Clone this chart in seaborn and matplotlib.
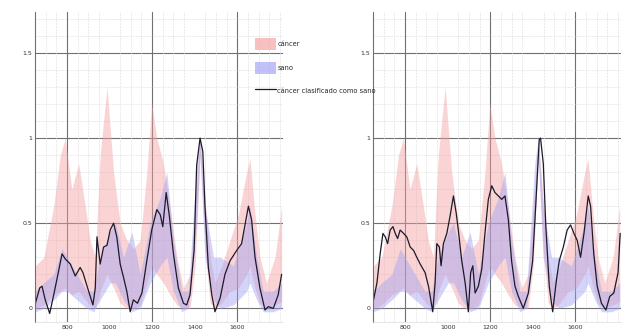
import matplotlib
matplotlib.use("Agg")
import matplotlib.pyplot as plt
import numpy as np
import pandas as pd
import seaborn as sns
from matplotlib.ticker import MultipleLocator
from matplotlib.patches import Patch
from matplotlib.lines import Line2D

# band of "cáncer" spectra (upper / lower envelope)
cancer_x = [652, 691, 738, 769, 792, 823, 855, 886, 909, 933,
            956, 988, 1019, 1050, 1081, 1112, 1144, 1175, 1198, 1222,
            1253, 1284, 1316, 1347, 1378, 1402, 1425, 1448, 1472, 1495,
            1527, 1566, 1605, 1644, 1659, 1683, 1706, 1737, 1777, 1808]
cancer_hi = [0.25, 0.3, 0.6, 0.9, 1.0, 0.7, 0.85, 0.6, 0.4, 0.3,
             0.9, 1.3, 0.8, 0.5, 0.4, 0.35, 0.4, 0.8, 1.2, 1.0,
             0.85, 0.6, 0.3, 0.12, 0.2, 0.6, 1.0, 0.65, 0.3, 0.15,
             0.25, 0.4, 0.55, 0.8, 0.88, 0.55, 0.3, 0.15, 0.3, 0.6]
cancer_lo = [0.0, 0.02, 0.08, 0.1, 0.12, 0.08, 0.1, 0.05, 0.02, 0.0,
             0.1, 0.2, 0.12, 0.03, 0.0, 0.0, 0.02, 0.15, 0.25, 0.2,
             0.15, 0.08, 0.02, 0.0, 0.0, 0.25, 0.9, 0.35, 0.03, 0.0,
             0.03, 0.1, 0.12, 0.2, 0.25, 0.12, 0.03, 0.0, 0.02, 0.04]

# band of "sano" spectra
sano_x = [652, 691, 738, 777, 800, 847, 894, 925, 956, 1003,
          1027, 1066, 1105, 1144, 1191, 1238, 1269, 1300, 1339, 1370,
          1409, 1425, 1448, 1488, 1519, 1581, 1644, 1659, 1691, 1722,
          1769, 1808]
sano_hi = [0.1, 0.15, 0.2, 0.35, 0.3, 0.2, 0.1, 0.1, 0.3, 0.45,
           0.5, 0.3, 0.45, 0.2, 0.5, 0.65, 0.8, 0.4, 0.1, 0.1,
           0.85, 1.0, 0.6, 0.3, 0.3, 0.25, 0.5, 0.6, 0.3, 0.1,
           0.1, 0.15]
sano_lo = [-0.02, 0.0, 0.05, 0.1, 0.1, 0.05, 0.0, -0.02, 0.05, 0.15,
           0.15, 0.05, -0.02, 0.0, 0.15, 0.25, 0.3, 0.1, -0.02, 0.0,
           0.5, 0.9, 0.3, 0.05, 0.0, 0.02, 0.1, 0.15, 0.05, -0.02,
           -0.02, 0.0]

# misclassified spectrum, left panel
left_x = [652, 672, 683, 698, 719, 738, 761, 777, 792, 816,
          839, 862, 875, 897, 922, 933, 941, 956, 972, 988,
          1003, 1019, 1034, 1050, 1066, 1081, 1097, 1112, 1131, 1152,
          1175, 1198, 1222, 1238, 1250, 1266, 1281, 1300, 1323, 1347,
          1362, 1378, 1397, 1409, 1425, 1438, 1448, 1464, 1480, 1495,
          1519, 1542, 1566, 1597, 1620, 1652, 1667, 1683, 1706, 1730,
          1745, 1769, 1792, 1808]
left_y = [0.03, 0.12, 0.13, 0.05, -0.03, 0.08, 0.22, 0.32, 0.29, 0.26,
          0.19, 0.24, 0.21, 0.12, 0.02, 0.12, 0.42, 0.26, 0.36, 0.37,
          0.46, 0.50, 0.42, 0.26, 0.18, 0.10, -0.02, 0.05, 0.03, 0.09,
          0.28, 0.46, 0.58, 0.55, 0.48, 0.68, 0.54, 0.32, 0.12, 0.03,
          0.02, 0.08, 0.34, 0.84, 1.0, 0.92, 0.60, 0.24, 0.08, -0.02,
          0.06, 0.20, 0.28, 0.34, 0.38, 0.60, 0.52, 0.30, 0.12, -0.01,
          0.01, 0.0, 0.08, 0.20]

# misclassified spectrum, right panel
right_x = [652, 668, 683, 696, 707, 718, 730, 743, 754, 765,
           777, 793, 808, 824, 840, 855, 871, 894, 910, 930,
           941, 949, 961, 969, 980, 996, 1011, 1027, 1040, 1050,
           1066, 1082, 1097, 1108, 1118, 1129, 1144, 1160, 1175, 1191,
           1207, 1222, 1238, 1254, 1269, 1285, 1300, 1316, 1332, 1355,
           1379, 1399, 1415, 1430, 1436, 1449, 1461, 1477, 1493, 1511,
           1524, 1543, 1561, 1577, 1593, 1608, 1624, 1640, 1660, 1671,
           1686, 1702, 1722, 1743, 1761, 1780, 1800, 1810]
right_y = [0.05, 0.15, 0.32, 0.44, 0.42, 0.38, 0.46, 0.48, 0.44, 0.41,
           0.46, 0.44, 0.42, 0.36, 0.34, 0.30, 0.26, 0.21, 0.13, -0.02,
           0.15, 0.38, 0.36, 0.25, 0.38, 0.44, 0.54, 0.66, 0.56, 0.46,
           0.28, 0.15, -0.02, 0.21, 0.25, 0.09, 0.13, 0.23, 0.44, 0.64,
           0.72, 0.68, 0.66, 0.64, 0.66, 0.52, 0.28, 0.13, 0.07, 0.0,
           0.09, 0.28, 0.64, 0.99, 1.0, 0.85, 0.48, 0.13, -0.02, 0.17,
           0.28, 0.36, 0.46, 0.49, 0.44, 0.40, 0.30, 0.44, 0.66, 0.60,
           0.32, 0.13, 0.03, -0.01, 0.07, 0.09, 0.21, 0.44]

x_ticks = [800, 1000, 1200, 1400, 1600]
y_ticks = [0, 0.5, 1, 1.5]
y_tick_labels = ["0", "0.5", "1", "1.5"]

pink = "#f4a0a0"
blue = "#a0a0f4"

sns.set_style("white")
plt.rcParams["font.family"] = ["DejaVu Sans"]

fig = plt.figure(figsize=(6.25, 3.34), dpi=100)
ax_l = fig.add_axes([0.056, 0.036, 0.397, 0.928])
ax_r = fig.add_axes([0.597, 0.036, 0.397, 0.928])

for ax, lx, ly in [(ax_l, left_x, left_y), (ax_r, right_x, right_y)]:
    ax.fill_between(cancer_x, cancer_lo, cancer_hi, color=pink, alpha=0.45, lw=0)
    ax.fill_between(sano_x, sano_lo, sano_hi, color=blue, alpha=0.45, lw=0)
    df = pd.DataFrame({"x": lx, "y": ly})
    sns.lineplot(data=df, x="x", y="y", ax=ax, color="#1a1a2a", lw=0.9)

    ax.set_xlim(650, 1815)
    ax.set_ylim(-0.08, 1.74)
    ax.set_xticks(x_ticks)
    ax.set_xticklabels([str(t) for t in x_ticks])
    ax.set_yticks(y_ticks)
    ax.set_yticklabels(y_tick_labels)
    ax.xaxis.set_minor_locator(MultipleLocator(50))
    ax.yaxis.set_minor_locator(MultipleLocator(0.1))
    ax.grid(which="minor", color="#dcdcdc", lw=0.4, ls="--")
    ax.grid(which="major", visible=False)
    for v in [800, 1200, 1600]:
        ax.axvline(v, color="#707070", lw=0.8, zorder=0.5)
    for v in y_ticks:
        ax.axhline(v, color="#707070", lw=0.8, zorder=0.5)
    ax.set_xlabel("")
    ax.set_ylabel("")
    ax.tick_params(which="both", length=0, labelsize=4.5, colors="#333333", pad=2)
    sns.despine(ax=ax, top=True, right=True, bottom=False)
    ax.spines["left"].set_color("#707070")
    ax.spines["left"].set_linewidth(0.8)
    ax.spines["bottom"].set_color("#dcdcdc")
    ax.spines["bottom"].set_linewidth(0.5)

handles = [Patch(facecolor=pink, alpha=0.65, lw=0),
           Patch(facecolor=blue, alpha=0.65, lw=0),
           Line2D([], [], color="#1a1a2a", lw=0.9)]
labels = ["cáncer", "sano", "cáncer clasificado como sano"]
fig.legend(handles, labels, loc="upper left", bbox_to_anchor=(0.402, 0.895),
           frameon=False, fontsize=4.8, handlelength=3.2, handleheight=2.4,
           labelspacing=1.7, handletextpad=0.2, borderpad=0)

fig.savefig("out.png", dpi=100)
